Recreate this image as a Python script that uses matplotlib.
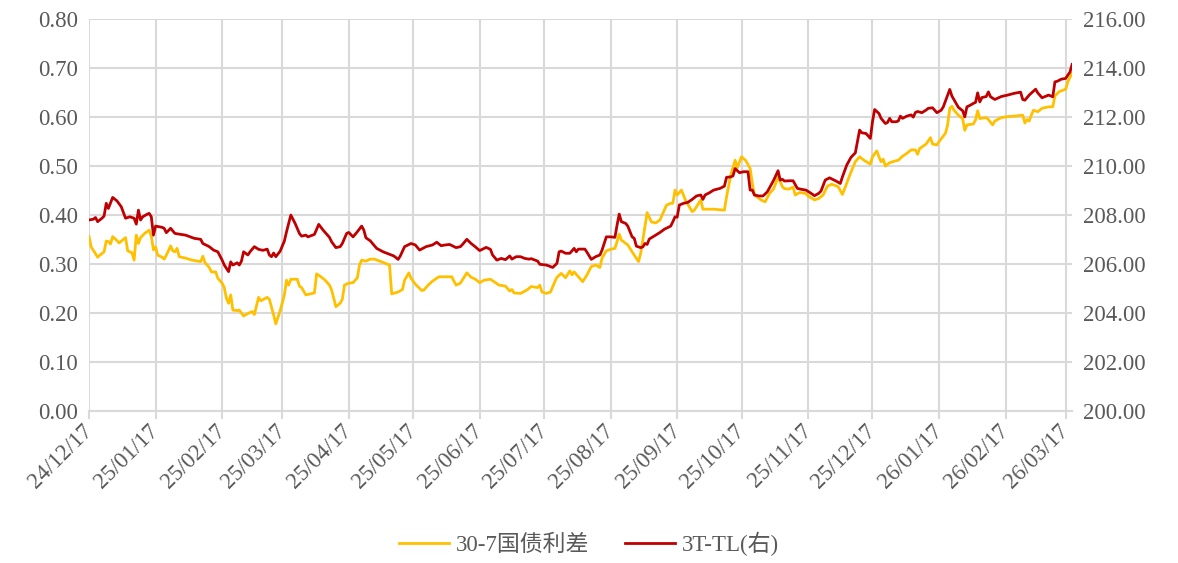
import pandas as pd
import matplotlib.pyplot as plt
import matplotlib.dates as mdates
from matplotlib.ticker import MultipleLocator, FormatStrFormatter

plt.rcParams['font.family'] = ['Liberation Serif', 'Noto Sans CJK SC']

# 30-7 year government bond spread (left axis)
spread_dates = [
    '2024-12-17', '2024-12-18', '2024-12-21', '2024-12-22', '2024-12-24', '2024-12-25', '2024-12-26',
    '2024-12-27', '2024-12-28', '2024-12-30', '2024-12-31', '2025-01-03', '2025-01-04', '2025-01-05',
    '2025-01-06', '2025-01-07', '2025-01-08', '2025-01-09', '2025-01-10', '2025-01-12', '2025-01-14',
    '2025-01-15', '2025-01-16', '2025-01-17', '2025-01-18', '2025-01-20', '2025-01-21', '2025-01-22',
    '2025-01-24', '2025-01-25', '2025-01-26', '2025-01-27', '2025-01-28', '2025-01-31', '2025-02-03',
    '2025-02-07', '2025-02-08', '2025-02-09', '2025-02-11', '2025-02-12', '2025-02-14', '2025-02-15',
    '2025-02-17', '2025-02-18', '2025-02-19', '2025-02-20', '2025-02-21', '2025-02-22', '2025-02-24',
    '2025-02-25', '2025-02-27', '2025-03-01', '2025-03-03', '2025-03-04', '2025-03-06', '2025-03-07',
    '2025-03-10', '2025-03-11', '2025-03-13', '2025-03-14', '2025-03-16', '2025-03-18', '2025-03-19',
    '2025-03-20', '2025-03-21', '2025-03-24', '2025-03-25', '2025-03-26', '2025-03-28', '2025-04-01',
    '2025-04-02', '2025-04-04', '2025-04-06', '2025-04-08', '2025-04-09', '2025-04-11', '2025-04-13',
    '2025-04-14', '2025-04-15', '2025-04-17', '2025-04-19', '2025-04-21', '2025-04-22', '2025-04-23',
    '2025-04-25', '2025-04-27', '2025-04-29', '2025-05-02', '2025-05-06', '2025-05-07', '2025-05-10',
    '2025-05-12', '2025-05-13', '2025-05-15', '2025-05-16', '2025-05-18', '2025-05-21', '2025-05-22',
    '2025-05-24', '2025-05-26', '2025-05-29', '2025-06-01', '2025-06-04', '2025-06-05', '2025-06-06',
    '2025-06-08', '2025-06-11', '2025-06-13', '2025-06-15', '2025-06-17', '2025-06-19', '2025-06-22',
    '2025-06-24', '2025-06-26', '2025-06-29', '2025-07-01', '2025-07-02', '2025-07-03', '2025-07-06',
    '2025-07-09', '2025-07-11', '2025-07-14', '2025-07-15', '2025-07-16', '2025-07-18', '2025-07-20',
    '2025-07-22', '2025-07-23', '2025-07-25', '2025-07-27', '2025-07-29', '2025-07-30', '2025-07-31',
    '2025-08-02', '2025-08-04', '2025-08-06', '2025-08-08', '2025-08-10', '2025-08-12', '2025-08-13',
    '2025-08-15', '2025-08-17', '2025-08-19', '2025-08-20', '2025-08-21', '2025-08-22', '2025-08-25',
    '2025-08-27', '2025-08-30', '2025-08-31', '2025-09-01', '2025-09-03', '2025-09-05', '2025-09-07',
    '2025-09-09', '2025-09-12', '2025-09-14', '2025-09-15', '2025-09-16', '2025-09-17', '2025-09-19',
    '2025-09-21', '2025-09-24', '2025-09-25', '2025-09-28', '2025-09-29', '2025-10-04', '2025-10-09',
    '2025-10-10', '2025-10-12', '2025-10-14', '2025-10-15', '2025-10-17', '2025-10-19', '2025-10-21',
    '2025-10-22', '2025-10-23', '2025-10-26', '2025-10-28', '2025-10-30', '2025-11-01', '2025-11-03',
    '2025-11-05', '2025-11-06', '2025-11-08', '2025-11-10', '2025-11-11', '2025-11-13', '2025-11-16',
    '2025-11-17', '2025-11-20', '2025-11-22', '2025-11-24', '2025-11-26', '2025-11-28', '2025-12-01',
    '2025-12-03', '2025-12-05', '2025-12-07', '2025-12-09', '2025-12-11', '2025-12-13', '2025-12-16',
    '2025-12-17', '2025-12-19', '2025-12-20', '2025-12-21', '2025-12-22', '2025-12-23', '2025-12-25',
    '2025-12-28', '2025-12-29', '2025-12-31', '2026-01-02', '2026-01-04', '2026-01-06', '2026-01-07',
    '2026-01-08', '2026-01-11', '2026-01-13', '2026-01-14', '2026-01-16', '2026-01-17', '2026-01-20',
    '2026-01-21', '2026-01-22', '2026-01-23', '2026-01-24', '2026-01-26', '2026-01-28', '2026-01-29',
    '2026-01-30', '2026-02-02', '2026-02-03', '2026-02-04', '2026-02-05', '2026-02-08', '2026-02-09',
    '2026-02-11', '2026-02-12', '2026-02-15', '2026-02-18', '2026-02-21', '2026-02-25', '2026-02-26',
    '2026-02-27', '2026-02-28', '2026-03-01', '2026-03-02', '2026-03-04', '2026-03-06', '2026-03-09',
    '2026-03-11', '2026-03-12', '2026-03-14', '2026-03-17', '2026-03-18', '2026-03-20',
]
spread_values = [
    0.356, 0.335, 0.314, 0.318, 0.325, 0.347, 0.346,
    0.341, 0.356, 0.348, 0.343, 0.354, 0.327, 0.325,
    0.323, 0.308, 0.359, 0.342, 0.354, 0.363, 0.369,
    0.357, 0.329, 0.335, 0.318, 0.314, 0.310, 0.318,
    0.337, 0.327, 0.325, 0.332, 0.315, 0.312, 0.308,
    0.305, 0.316, 0.303, 0.293, 0.284, 0.284, 0.271,
    0.261, 0.252, 0.230, 0.220, 0.237, 0.206, 0.205,
    0.206, 0.194, 0.199, 0.203, 0.197, 0.232, 0.225,
    0.232, 0.228, 0.196, 0.178, 0.204, 0.237, 0.267,
    0.257, 0.269, 0.269, 0.255, 0.252, 0.237, 0.241,
    0.280, 0.274, 0.267, 0.257, 0.247, 0.213, 0.220,
    0.228, 0.257, 0.261, 0.262, 0.272, 0.298, 0.308,
    0.306, 0.310, 0.310, 0.305, 0.298, 0.239, 0.243,
    0.248, 0.267, 0.282, 0.271, 0.259, 0.246, 0.247,
    0.257, 0.265, 0.274, 0.274, 0.274, 0.265, 0.257,
    0.261, 0.282, 0.273, 0.269, 0.262, 0.267, 0.269,
    0.263, 0.257, 0.255, 0.245, 0.248, 0.241, 0.240,
    0.247, 0.254, 0.252, 0.257, 0.243, 0.240, 0.243,
    0.264, 0.273, 0.281, 0.272, 0.286, 0.278, 0.284,
    0.274, 0.264, 0.278, 0.295, 0.298, 0.293, 0.312,
    0.327, 0.330, 0.332, 0.346, 0.361, 0.349, 0.339,
    0.325, 0.305, 0.322, 0.349, 0.405, 0.386, 0.384,
    0.390, 0.420, 0.424, 0.424, 0.451, 0.441, 0.451,
    0.429, 0.407, 0.410, 0.431, 0.412, 0.412, 0.410,
    0.437, 0.482, 0.512, 0.497, 0.519, 0.511, 0.495,
    0.465, 0.441, 0.431, 0.427, 0.444, 0.454, 0.478,
    0.458, 0.454, 0.453, 0.457, 0.441, 0.446, 0.444,
    0.439, 0.431, 0.434, 0.441, 0.459, 0.463, 0.458,
    0.442, 0.465, 0.488, 0.509, 0.519, 0.512, 0.504,
    0.519, 0.531, 0.519, 0.509, 0.514, 0.500, 0.507,
    0.511, 0.512, 0.520, 0.526, 0.533, 0.533, 0.524,
    0.536, 0.545, 0.558, 0.545, 0.543, 0.550, 0.567,
    0.584, 0.618, 0.622, 0.614, 0.604, 0.597, 0.573,
    0.584, 0.586, 0.594, 0.613, 0.597, 0.599, 0.595,
    0.584, 0.592, 0.599, 0.601, 0.602, 0.604, 0.588,
    0.595, 0.592, 0.604, 0.614, 0.611, 0.618, 0.621,
    0.621, 0.643, 0.652, 0.657, 0.672, 0.690,
]

# 3T-TL (right axis)
t_tl_dates = [
    '2024-12-17', '2024-12-19', '2024-12-20', '2024-12-21', '2024-12-23', '2024-12-24', '2024-12-25',
    '2024-12-26', '2024-12-28', '2024-12-30', '2025-01-01', '2025-01-03', '2025-01-05', '2025-01-07',
    '2025-01-08', '2025-01-09', '2025-01-10', '2025-01-11', '2025-01-13', '2025-01-14', '2025-01-15',
    '2025-01-16', '2025-01-17', '2025-01-20', '2025-01-21', '2025-01-22', '2025-01-24', '2025-01-26',
    '2025-01-31', '2025-02-04', '2025-02-07', '2025-02-08', '2025-02-11', '2025-02-13', '2025-02-15',
    '2025-02-17', '2025-02-18', '2025-02-20', '2025-02-21', '2025-02-22', '2025-02-24', '2025-02-25',
    '2025-02-26', '2025-02-27', '2025-03-01', '2025-03-02', '2025-03-04', '2025-03-06', '2025-03-08',
    '2025-03-10', '2025-03-11', '2025-03-12', '2025-03-13', '2025-03-14', '2025-03-16', '2025-03-18',
    '2025-03-19', '2025-03-21', '2025-03-23', '2025-03-25', '2025-03-26', '2025-03-28', '2025-03-29',
    '2025-04-01', '2025-04-03', '2025-04-05', '2025-04-08', '2025-04-09', '2025-04-11', '2025-04-13',
    '2025-04-14', '2025-04-16', '2025-04-17', '2025-04-19', '2025-04-21', '2025-04-23', '2025-04-24',
    '2025-04-25', '2025-04-27', '2025-04-30', '2025-05-03', '2025-05-06', '2025-05-08', '2025-05-10',
    '2025-05-11', '2025-05-13', '2025-05-16', '2025-05-18', '2025-05-20', '2025-05-23', '2025-05-26',
    '2025-05-28', '2025-05-30', '2025-06-01', '2025-06-03', '2025-06-06', '2025-06-08', '2025-06-09',
    '2025-06-11', '2025-06-13', '2025-06-15', '2025-06-17', '2025-06-20', '2025-06-22', '2025-06-23',
    '2025-06-25', '2025-06-27', '2025-06-29', '2025-07-01', '2025-07-02', '2025-07-04', '2025-07-06',
    '2025-07-08', '2025-07-10', '2025-07-11', '2025-07-14', '2025-07-15', '2025-07-18', '2025-07-19',
    '2025-07-21', '2025-07-23', '2025-07-24', '2025-07-25', '2025-07-27', '2025-07-29', '2025-07-31',
    '2025-08-01', '2025-08-02', '2025-08-05', '2025-08-06', '2025-08-08', '2025-08-10', '2025-08-12',
    '2025-08-13', '2025-08-15', '2025-08-17', '2025-08-19', '2025-08-20', '2025-08-21', '2025-08-22',
    '2025-08-24', '2025-08-25', '2025-08-27', '2025-08-28', '2025-08-29', '2025-08-31', '2025-09-01',
    '2025-09-02', '2025-09-03', '2025-09-04', '2025-09-07', '2025-09-09', '2025-09-11', '2025-09-14',
    '2025-09-15', '2025-09-16', '2025-09-17', '2025-09-18', '2025-09-20', '2025-09-22', '2025-09-24',
    '2025-09-26', '2025-09-28', '2025-09-29', '2025-09-30', '2025-10-02', '2025-10-04', '2025-10-07',
    '2025-10-09', '2025-10-10', '2025-10-12', '2025-10-13', '2025-10-14', '2025-10-16', '2025-10-18',
    '2025-10-20', '2025-10-21', '2025-10-22', '2025-10-23', '2025-10-25', '2025-10-27', '2025-10-29',
    '2025-11-01', '2025-11-03', '2025-11-04', '2025-11-05', '2025-11-06', '2025-11-08', '2025-11-10',
    '2025-11-12', '2025-11-14', '2025-11-16', '2025-11-18', '2025-11-20', '2025-11-22', '2025-11-23',
    '2025-11-25', '2025-11-27', '2025-11-30', '2025-12-02', '2025-12-03', '2025-12-05', '2025-12-07',
    '2025-12-09', '2025-12-11', '2025-12-12', '2025-12-14', '2025-12-16', '2025-12-17', '2025-12-18',
    '2025-12-20', '2025-12-21', '2025-12-23', '2025-12-24', '2025-12-25', '2025-12-26', '2025-12-28',
    '2025-12-29', '2025-12-30', '2025-12-31', '2026-01-02', '2026-01-04', '2026-01-05', '2026-01-06',
    '2026-01-07', '2026-01-09', '2026-01-11', '2026-01-12', '2026-01-14', '2026-01-16', '2026-01-18',
    '2026-01-19', '2026-01-21', '2026-01-22', '2026-01-23', '2026-01-26', '2026-01-28', '2026-01-29',
    '2026-01-30', '2026-01-31', '2026-02-02', '2026-02-03', '2026-02-04', '2026-02-05', '2026-02-06',
    '2026-02-08', '2026-02-09', '2026-02-10', '2026-02-12', '2026-02-14', '2026-02-15', '2026-02-18',
    '2026-02-21', '2026-02-24', '2026-02-25', '2026-02-26', '2026-02-28', '2026-03-03', '2026-03-04',
    '2026-03-06', '2026-03-08', '2026-03-09', '2026-03-11', '2026-03-12', '2026-03-13', '2026-03-15',
    '2026-03-17', '2026-03-18', '2026-03-19', '2026-03-20',
]
t_tl_values = [
    207.80, 207.83, 207.90, 207.73, 207.87, 207.96, 208.48,
    208.27, 208.72, 208.58, 208.34, 207.87, 207.93, 207.87,
    207.63, 208.20, 207.80, 207.93, 208.03, 208.07, 207.93,
    207.18, 207.55, 207.50, 207.46, 207.28, 207.46, 207.25,
    207.18, 207.05, 207.01, 206.84, 206.71, 206.57, 206.50,
    206.16, 205.96, 205.69, 206.09, 205.96, 206.05, 205.96,
    206.12, 206.50, 206.37, 206.50, 206.71, 206.60, 206.56,
    206.61, 206.37, 206.30, 206.45, 206.30, 206.52, 206.94,
    207.32, 208.00, 207.66, 207.25, 207.14, 207.18, 207.11,
    207.21, 207.62, 207.39, 207.09, 206.91, 206.67, 206.71,
    206.84, 207.25, 207.29, 207.11, 207.32, 207.55, 207.39,
    207.07, 206.95, 206.64, 206.50, 206.40, 206.33, 206.19,
    206.33, 206.71, 206.84, 206.78, 206.57, 206.71, 206.78,
    206.89, 206.75, 206.78, 206.80, 206.67, 206.71, 206.80,
    207.01, 206.84, 206.70, 206.55, 206.68, 206.60, 206.37,
    206.16, 206.23, 206.18, 206.33, 206.20, 206.30, 206.30,
    206.23, 206.20, 206.22, 206.12, 205.99, 205.96, 205.93,
    205.86, 206.03, 206.50, 206.53, 206.44, 206.44, 206.64,
    206.50, 206.61, 206.61, 206.48, 206.19, 206.30, 206.37,
    206.57, 207.11, 207.11, 207.09, 207.59, 208.04, 207.73,
    207.66, 207.55, 207.11, 207.05, 206.73, 206.67, 206.70,
    206.84, 206.80, 207.02, 207.18, 207.29, 207.42, 207.55,
    207.73, 207.93, 207.91, 208.41, 208.48, 208.52, 208.64,
    208.78, 208.82, 208.64, 208.82, 208.91, 209.02, 209.09,
    209.18, 209.54, 209.56, 209.60, 209.90, 209.73, 209.77,
    209.77, 209.02, 209.02, 208.82, 208.78, 208.78, 208.95,
    209.43, 209.81, 209.43, 209.46, 209.39, 209.40, 209.40,
    209.09, 209.05, 209.02, 208.91, 208.79, 208.89, 208.98,
    209.43, 209.52, 209.39, 209.29, 209.56, 210.04, 210.36,
    210.54, 211.47, 211.36, 211.33, 211.13, 211.81, 212.31,
    212.15, 211.95, 211.74, 211.78, 211.95, 211.81, 211.81,
    211.84, 212.04, 211.95, 212.04, 212.09, 212.00, 212.19,
    212.23, 212.18, 212.29, 212.36, 212.38, 212.18, 212.28,
    212.42, 212.90, 213.13, 212.86, 212.40, 212.26, 212.01,
    212.42, 212.46, 212.56, 212.60, 212.99, 212.62, 212.80,
    212.84, 213.03, 212.83, 212.72, 212.80, 212.84, 212.90,
    212.97, 213.02, 212.72, 212.69, 212.90, 213.14, 212.99,
    212.79, 212.86, 212.90, 212.83, 213.44, 213.46, 213.55,
    213.58, 213.71, 213.84, 214.15,
]

spread_label = '30-7国债利差'
t_tl_label = '3T-TL(右)'

grid_color = '#D9D9D9'
text_color = '#595959'
fs = 16.5

spread_x = pd.to_datetime(spread_dates)
t_tl_x = pd.to_datetime(t_tl_dates)
month_ticks = pd.date_range('2024-12-17', '2026-03-17', freq=pd.DateOffset(months=1))

fig = plt.figure(figsize=(11.78, 5.63), dpi=100)
ax = fig.add_axes([0.0756, 0.270, 0.8345, 0.696])
ax2 = ax.twinx()

ax.plot(spread_x, spread_values, color='#FFC000', lw=2.0, label=spread_label)
ax2.plot(t_tl_x, t_tl_values, color='#C00000', lw=2.0, label=t_tl_label)

ax.set_xlim(spread_x[0], spread_x[-1])
ax.set_ylim(0, 0.8)
ax.yaxis.set_major_locator(MultipleLocator(0.1))
ax.yaxis.set_major_formatter(FormatStrFormatter('%.2f'))
ax2.set_ylim(200, 216)
ax2.yaxis.set_major_locator(MultipleLocator(2))
ax2.yaxis.set_major_formatter(FormatStrFormatter('%.2f'))

ax.set_xticks(month_ticks)
ax.xaxis.set_major_formatter(mdates.DateFormatter('%y/%m/%d'))
ax.grid(True, color=grid_color, lw=1.5)
ax.set_axisbelow(True)

for a in (ax, ax2):
    for s in a.spines.values():
        s.set_visible(False)
ax.spines['bottom'].set_visible(True)
ax.spines['bottom'].set_color(grid_color)
ax.spines['bottom'].set_linewidth(1.5)

ax.tick_params(axis='x', length=6, width=1.5, color=grid_color, labelcolor=text_color,
               labelsize=fs, pad=6)
ax.tick_params(axis='y', length=0, labelcolor=text_color, labelsize=fs, pad=8)
ax2.tick_params(axis='y', length=0, labelcolor=text_color, labelsize=fs, pad=8)
for lbl in ax.get_xticklabels():
    lbl.set_rotation(45)
    lbl.set_ha('right')
    lbl.set_va('center')
    lbl.set_rotation_mode('anchor')

h1, l1 = ax.get_legend_handles_labels()
h2, l2 = ax2.get_legend_handles_labels()
leg = fig.legend(h1 + h2, l1 + l2, loc='lower center', bbox_to_anchor=(0.5, -0.025), ncol=2,
                 frameon=False, fontsize=fs, handlelength=2.2, columnspacing=1.55,
                 handletextpad=0.3)
for t in leg.get_texts():
    t.set_color(text_color)

fig.savefig('out.png', dpi=100)
